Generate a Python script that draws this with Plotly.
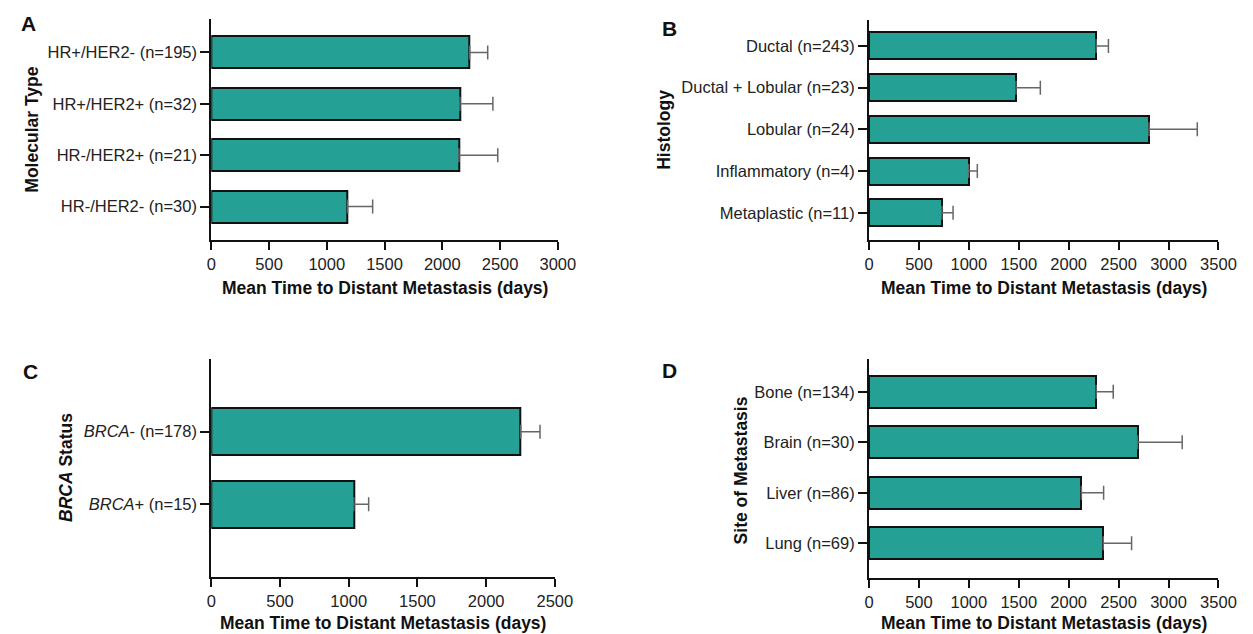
import plotly.graph_objects as go

# ---- data ----
mol_types = ["HR+/HER2- (n=195)", "HR+/HER2+ (n=32)", "HR-/HER2+ (n=21)", "HR-/HER2- (n=30)"]
mol_mean = [2237, 2153, 2144, 1180]
mol_sem = [156, 285, 336, 217]

hist_types = ["Ductal (n=243)", "Ductal + Lobular (n=23)", "Lobular (n=24)", "Inflammatory (n=4)", "Metaplastic (n=11)"]
hist_mean = [2275, 1472, 2805, 998, 730]
hist_sem = [123, 244, 483, 87, 112]

brca_types = ["<i>BRCA</i>- (n=178)", "<i>BRCA</i>+ (n=15)"]
brca_mean = [2252, 1037]
brca_sem = [140, 108]

site_types = ["Bone (n=134)", "Brain (n=30)", "Liver (n=86)", "Lung (n=69)"]
site_mean = [2275, 2690, 2127, 2346]
site_sem = [171, 447, 223, 284]

x_title = "<b>Mean Time to Distant Metastasis (days)</b>"

W, H = 1253, 634
TEAL = "#24A094"
FONT = "Liberation Sans, Arial, sans-serif"
TICK_SIZE = 16.5
TITLE_SIZE = 17.5

def px(x):
    return x / W

def py(y):
    return 1 - y / H

fig = go.Figure()

panels = [
    # cats, mean, sem, xmax, dtick, xdom(px), ydom(px top,bottom), yrange, width, title y(px)
    (mol_types, mol_mean, mol_sem, 3000, 500, (202, 555), (11, 232), (3.65, -0.65), 0.62, 280),
    (hist_types, hist_mean, hist_sem, 3500, 500, (872, 1228), (12, 232), (4.65, -0.62), 0.65, 280),
    (brca_types, brca_mean, brca_sem, 2500, 500, (202, 552), (351, 569), (2.0, -1.0), 0.64, 615),
    (site_types, site_mean, site_sem, 3500, 500, (872, 1228), (351, 570), (3.69, -0.65), 0.63, 615),
]

ann = []
for i, (cats, mean, sem, xmax, dt, xd, yd, yr, bw, ty) in enumerate(panels):
    n = i + 1
    xa = "x" if n == 1 else f"x{n}"
    ya = "y" if n == 1 else f"y{n}"
    pos = list(range(len(cats)))
    fig.add_trace(go.Bar(
        x=mean, y=pos, orientation="h", width=bw,
        marker=dict(color=TEAL, line=dict(color="#111", width=2)),
        error_x=dict(type="data", array=sem, arrayminus=[0] * len(sem), symmetric=False,
                     color="#666", thickness=1.5, width=7),
        xaxis=xa, yaxis=ya, showlegend=False,
    ))
    xkey = "xaxis" if n == 1 else f"xaxis{n}"
    ykey = "yaxis" if n == 1 else f"yaxis{n}"
    fig.layout[xkey] = dict(
        domain=[px(xd[0]), px(xd[1])], range=[0, xmax], anchor=ya,
        tickmode="linear", tick0=0, dtick=dt,
        showline=True, linecolor="#111", linewidth=2,
        ticks="outside", ticklen=8, tickwidth=2, tickcolor="#111",
        showgrid=False, zeroline=False,
        tickfont=dict(family=FONT, size=TICK_SIZE, color="#222"),
        fixedrange=True,
    )
    fig.layout[ykey] = dict(
        domain=[py(yd[1]), py(yd[0])], range=list(yr), anchor=xa,
        tickmode="array", tickvals=pos, ticktext=cats,
        showline=True, linecolor="#111", linewidth=2,
        ticks="outside", ticklen=9, tickwidth=2, tickcolor="#111",
        showgrid=False, zeroline=False,
        tickfont=dict(family=FONT, size=TICK_SIZE, color="#222"),
        fixedrange=True,
    )
    ann.append(dict(text=x_title, x=px((xd[0] + xd[1]) / 2), y=py(ty), xref="paper", yref="paper",
                    showarrow=False, font=dict(family=FONT, size=TITLE_SIZE, color="#111"),
                    xanchor="center", yanchor="middle"))

# panel letters
for letter, x, y in [("A", 16, 16), ("B", 669, 20), ("C", 18, 363), ("D", 669, 362)]:
    ann.append(dict(text=f"<b>{letter}</b>", x=px(x), y=py(y), xref="paper", yref="paper",
                    showarrow=False, font=dict(family=FONT, size=21, color="#111"),
                    xanchor="center", yanchor="middle"))
# y-axis titles
for text, x, y in [("<b>Molecular Type</b>", 19, 122), ("<b>Histology</b>", 663, 122),
                   ("<b><i>BRCA</i> Status</b>", 54, 460), ("<b>Site of Metastasis</b>", 742, 462)]:
    ann.append(dict(text=text, x=px(x), y=py(y), xref="paper", yref="paper", textangle=-90,
                    showarrow=False, font=dict(family=FONT, size=TITLE_SIZE, color="#111"),
                    xanchor="center", yanchor="middle"))

fig.update_layout(
    width=W, height=H, margin=dict(l=0, r=0, t=0, b=0),
    paper_bgcolor="white", plot_bgcolor="white",
    annotations=ann, bargap=0,
)

fig.write_html("out.html", config={"displayModeBar": False})
